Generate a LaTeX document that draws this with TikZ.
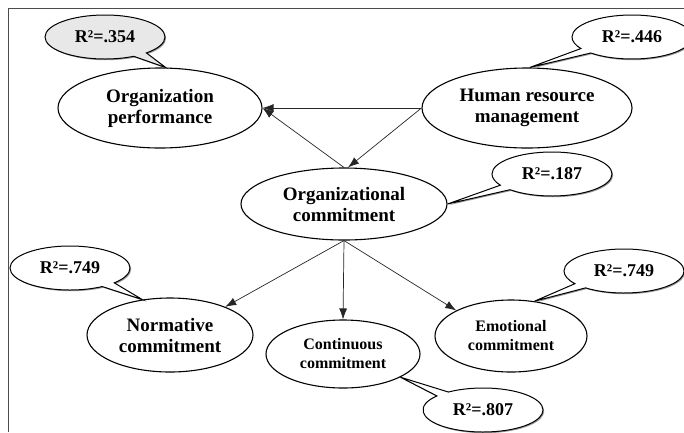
\documentclass[tikz,border=0pt]{standalone}
\usepackage{fontspec}
\setmainfont{Liberation Serif}
\usetikzlibrary{shapes.geometric,shapes.callouts,arrows.meta,shadows}

\begin{document}
\begin{tikzpicture}[x=1pt,y=-1pt,
      construct/.style ={ellipse, draw, line width=1.1pt, inner sep=0pt, align=center,
                         font=\bfseries\fontsize{19}{21}\selectfont},
      smallconstruct/.style ={construct, font=\bfseries\fontsize{16}{19}\selectfont},
      rsquare/.style ={ellipse callout, draw, line width=1pt, fill=white, inner sep=0pt,
                       minimum width=120pt, minimum height=44pt,
                       drop shadow={shadow xshift=1.2pt, shadow yshift=-1.2pt, fill=gray!80, opacity=1},
                       font=\bfseries\fontsize{18}{20}\selectfont},
      path/.style ={-{Latex[length=11pt,width=8pt]}, line width=0.7pt, black!85}]
   \useasboundingbox (0,0) rectangle (684,432);
   \draw[line width=0.8pt, black!70] (8,432) -- (8,8) -- (684,8);

   \node[construct, minimum width=204pt, minimum height=80pt] (op)   at (160,108) {Organization\\performance};
   \node[construct, minimum width=210pt, minimum height=80pt] (hrm)  at (527,108) {Human resource\\management};
   \node[construct, minimum width=206pt, minimum height=72pt] (oc)   at (344,204) {Organizational\\commitment};
   \node[construct, minimum width=166pt, minimum height=74pt] (norm) at (170,335) {Normative\\commitment};
   \node[smallconstruct, minimum width=154pt, minimum height=68pt] (cont) at (343,354) {Continuous\\commitment};
   \node[smallconstruct, minimum width=152pt, minimum height=72pt] (emo)  at (511,336) {Emotional\\commitment};

   \draw[path] (hrm.west) to (op.east);
   \draw[path] (oc.north) to (op.east);
   \draw[path] (hrm.west) to ([xshift=4pt]oc.north);
   \draw[path] (oc.south) to (norm.27);
   \draw[path] (oc.south) to (cont.north);
   \draw[path] (oc.south) to (emo.155);

   \node[rsquare, fill=gray!18, callout absolute pointer={(op.82)}]   (r1) at (105,37)  {R²=.354};
   \node[rsquare, callout absolute pointer={(hrm.86)}]  (r2) at (632,37)  {R²=.446};
   \node[rsquare, callout absolute pointer={(oc.east)}] (r3) at (552,174) {R²=.187};
   \node[rsquare, callout absolute pointer={(norm.128)}] (r4) at (70,268) {R²=.749};
   \node[rsquare, callout absolute pointer={(emo.56)}]  (r5) at (624,271) {R²=.749};
   \node[rsquare, callout absolute pointer={(cont.-22)}] (r6) at (483,410) {R²=.807};
 \end{tikzpicture}
\end{document}
